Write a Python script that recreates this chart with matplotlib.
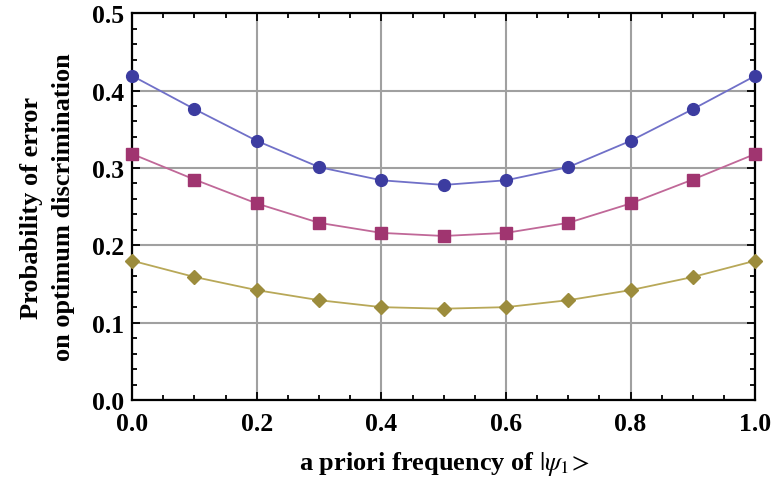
import numpy as np
import matplotlib
matplotlib.use("Agg")
from matplotlib import pyplot as plt
from matplotlib.ticker import MultipleLocator

# a priori frequency of |psi_1>
freq = [0.0, 0.1, 0.2, 0.3, 0.4, 0.5, 0.6, 0.7, 0.8, 0.9, 1.0]

# probability of error, three curves
err_top = [0.419, 0.376, 0.335, 0.301, 0.284, 0.278, 0.284, 0.301, 0.335, 0.376, 0.419]
err_mid = [0.318, 0.285, 0.254, 0.229, 0.216, 0.212, 0.216, 0.229, 0.254, 0.285, 0.318]
err_low = [0.180, 0.159, 0.142, 0.129, 0.120, 0.118, 0.120, 0.129, 0.142, 0.159, 0.180]

plt.rcParams['font.family'] = ['Liberation Serif', 'DejaVu Serif']
plt.rcParams['mathtext.fontset'] = 'stix'

fig = plt.figure(figsize=(7.73, 4.89), dpi=100)
ax = fig.add_axes([0.171, 0.180, 0.806, 0.791])

ax.plot(freq, err_top, '-', color='#7070c8', lw=1.3, zorder=3)
ax.plot(freq, err_top, 'o', color='#3c3ca0', ms=8.5, zorder=4, clip_on=False)
ax.plot(freq, err_mid, '-', color='#c06898', lw=1.3, zorder=3)
ax.plot(freq, err_mid, 's', color='#a03570', ms=8, zorder=4, clip_on=False)
ax.plot(freq, err_low, '-', color='#b8a858', lw=1.3, zorder=3)
ax.plot(freq, err_low, 'D', color='#9c8c3c', ms=7, zorder=4, clip_on=False)

ax.set_xlim(0, 1)
ax.set_ylim(0, 0.5)
ax.xaxis.set_major_locator(MultipleLocator(0.2))
ax.xaxis.set_minor_locator(MultipleLocator(0.05))
ax.yaxis.set_major_locator(MultipleLocator(0.1))
ax.yaxis.set_minor_locator(MultipleLocator(0.02))
ax.xaxis.set_major_formatter(plt.FormatStrFormatter('%.1f'))
ax.yaxis.set_major_formatter(plt.FormatStrFormatter('%.1f'))

ax.grid(True, which='major', color='#a0a0a0', lw=1.5, zorder=1)
ax.tick_params(which='both', direction='in', top=True, right=True, width=1.3)
ax.tick_params(which='major', length=6, labelsize=18.5)
ax.tick_params(axis='y', pad=6)
ax.tick_params(axis='x', pad=9)
ax.tick_params(which='minor', length=3.5)
for lbl in ax.get_xticklabels() + ax.get_yticklabels():
    lbl.set_fontweight('bold')
for s in ax.spines.values():
    s.set_linewidth(1.6)

ax.set_xlabel(r'a priori frequency of $|\psi_1\!>$', fontsize=19, fontweight='bold', labelpad=10)
ax.set_ylabel('Probability of error\non optimum discrimination', fontsize=19,
              fontweight='bold', labelpad=12, linespacing=1.5)

fig.savefig('out.png', dpi=100)
